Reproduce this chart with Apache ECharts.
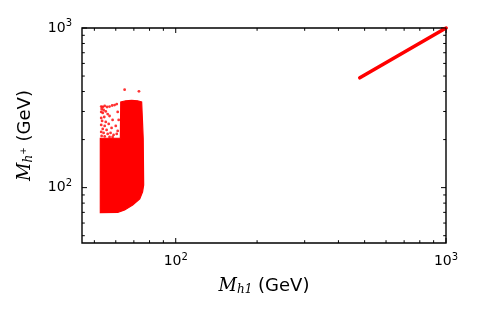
<!DOCTYPE html>
<html><head><meta charset="utf-8">
<script src="https://cdn.jsdelivr.net/npm/echarts@6/dist/echarts.min.js"></script>
<style>html,body{margin:0;padding:0;background:#fff}#c{width:477px;height:318px}</style>
</head><body><div id="c"></div>
<script>
// axis ranges and ticks
const xRange = [45, 1000];
const yRange = [45, 1000];
const majorTicks = [100, 1000];
const minorTicks = [50, 60, 70, 80, 90, 200, 300, 400, 500, 600, 700, 800, 900];

// dense region outline (M_h1, M_h+)
const blobX = [52.6, 52.6, 62.4, 62.6, 65.3, 68.7, 72.3, 74.8, 75.3, 75.8, 76.1, 75.4, 73.6, 69.3, 64.7, 61.0];
const blobY = [69.8, 203.9, 203.9, 344, 350, 352, 350, 344, 265, 203.9, 104, 94, 85, 77.9, 72.5, 69.9];

// sparse points
const sparseX = [53.0, 53.7, 54.6, 55.7, 56.9, 58.2, 59.4, 60.5, 53.2, 54.1, 53.0, 55.1, 53.7, 56.0, 53.0, 54.4, 56.9, 53.4, 55.1, 58.4, 53.0, 54.6, 56.5, 53.7, 55.5, 57.9, 60.0, 53.0, 54.1, 56.0, 57.4, 58.9, 60.5, 53.2, 54.6, 56.9, 58.4, 61.0, 61.5, 61.0, 64.7, 73.1];
const sparseY = [322, 320, 325, 320, 322, 327, 329, 334, 311, 306.5, 298, 300, 293.7, 289, 273, 277, 281, 261.7, 257.9, 265.5, 247, 243.4, 250.5, 233.2, 229.8, 236.5, 243.4, 223.3, 220.1, 216.9, 220.1, 213.8, 216.9, 210.8, 209.3, 207.8, 207.8, 226.5, 265.5, 298, 411, 401];

// heavy branch along the diagonal
const diagX = [480, 1000];
const diagY = [488, 1000];

const RED = '#ff0000';
const chart = echarts.init(document.getElementById('c'), null, {renderer: 'canvas'});

function isPow10(v) { const l = Math.log10(v); return Math.abs(l - Math.round(l)) < 1e-6; }
function powLabel(v) {
  if (!isPow10(v)) return '';
  return '{b|10}{s|' + Math.round(Math.log10(v)) + '}';
}
const labelRich = {
  b: {fontFamily: 'DejaVu Sans', fontSize: 14, color: '#000'},
  s: {fontFamily: 'DejaVu Sans', fontSize: 10, color: '#000', padding: [0, 0, 9, 0]}
};

// tick data: [x, y, isMajor, axis(0=x,1=y)]
const tickData = [];
majorTicks.forEach(v => { tickData.push([v, xRange[0], 1, 0]); tickData.push([yRange[0], v, 1, 1]); });
minorTicks.forEach(v => { tickData.push([v, xRange[0], 0, 0]); tickData.push([yRange[0], v, 0, 1]); });

const sparseData = sparseX.map((x, i) => [x, sparseY[i]]);
const blobData = [[blobX[0], blobY[0]]];

option = {
  animation: false,
  grid: {left: 82, right: 31, top: 28, bottom: 75, show: true, borderColor: '#000', borderWidth: 1.4, backgroundColor: '#fff'},
  xAxis: {
    type: 'log', logBase: 10, min: xRange[0], max: xRange[1],
    axisLine: {show: false}, axisTick: {show: false}, splitLine: {show: false}, minorTick: {show: false},
    axisLabel: {formatter: powLabel, rich: labelRich, margin: 9, showMinLabel: true, showMaxLabel: true},
    name: '{m|M}{sub|h1}{t| (GeV)}', nameLocation: 'middle', nameGap: 33,
    nameTextStyle: {
      rich: {
        m: {fontFamily: 'DejaVu Serif', fontStyle: 'italic', fontSize: 18, color: '#000'},
        sub: {fontFamily: 'DejaVu Serif', fontStyle: 'italic', fontSize: 12, color: '#000', padding: [8, 0, 0, 0]},
        t: {fontFamily: 'DejaVu Sans', fontSize: 18, color: '#000'}
      }
    }
  },
  yAxis: {
    type: 'log', logBase: 10, min: yRange[0], max: yRange[1],
    axisLine: {show: false}, axisTick: {show: false}, splitLine: {show: false}, minorTick: {show: false},
    axisLabel: {formatter: powLabel, rich: labelRich, margin: 10, showMinLabel: true, showMaxLabel: true},
    name: '{m|M}{sub|h}{sp|+}{t| (GeV)}', nameLocation: 'middle', nameGap: 47, nameRotate: 90,
    nameTextStyle: {
      rich: {
        m: {fontFamily: 'DejaVu Serif', fontStyle: 'italic', fontSize: 18, color: '#000'},
        sub: {fontFamily: 'DejaVu Serif', fontStyle: 'italic', fontSize: 12, color: '#000', padding: [8, 0, 0, 0]},
        sp: {fontFamily: 'DejaVu Sans', fontSize: 9, color: '#000', padding: [0, 0, 2, 0]},
        t: {fontFamily: 'DejaVu Sans', fontSize: 18, color: '#000'}
      }
    }
  },
  series: [
    {
      type: 'custom', name: 'blob', clip: true, z: 2,
      data: blobData,
      renderItem: function (params, api) {
        const pts = blobX.map((x, i) => api.coord([x, blobY[i]]));
        return {type: 'polygon', shape: {points: pts}, style: {fill: RED, stroke: RED, lineWidth: 1.2}};
      }
    },
    {
      type: 'scatter', name: 'sparse', data: sparseData, symbol: 'circle', symbolSize: 2.8,
      itemStyle: {color: RED}, z: 3
    },
    {
      type: 'line', name: 'diag', data: diagX.map((x, i) => [x, diagY[i]]), showSymbol: false,
      lineStyle: {color: RED, width: 3.6, cap: 'round'}, z: 3
    },
    {
      type: 'custom', name: 'ticks', clip: false, z: 10, silent: true,
      data: tickData,
      renderItem: function (params, api) {
        const major = api.value(2) === 1;
        const L = major ? 5 : 2.8;
        const st = {stroke: '#000', lineWidth: 1};
        if (api.value(3) === 0) {
          const v = api.value(0);
          const b = api.coord([v, yRange[0]]);
          const t = api.coord([v, yRange[1]]);
          return {type: 'group', children: [
            {type: 'line', shape: {x1: b[0], y1: b[1], x2: b[0], y2: b[1] - L}, style: st},
            {type: 'line', shape: {x1: t[0], y1: t[1], x2: t[0], y2: t[1] + L}, style: st}
          ]};
        } else {
          const v = api.value(1);
          const l = api.coord([xRange[0], v]);
          const r = api.coord([xRange[1], v]);
          return {type: 'group', children: [
            {type: 'line', shape: {x1: l[0], y1: l[1], x2: l[0] + L, y2: l[1]}, style: st},
            {type: 'line', shape: {x1: r[0], y1: r[1], x2: r[0] - L, y2: r[1]}, style: st}
          ]};
        }
      }
    }
  ]
};
chart.setOption(option);
</script></body></html>
